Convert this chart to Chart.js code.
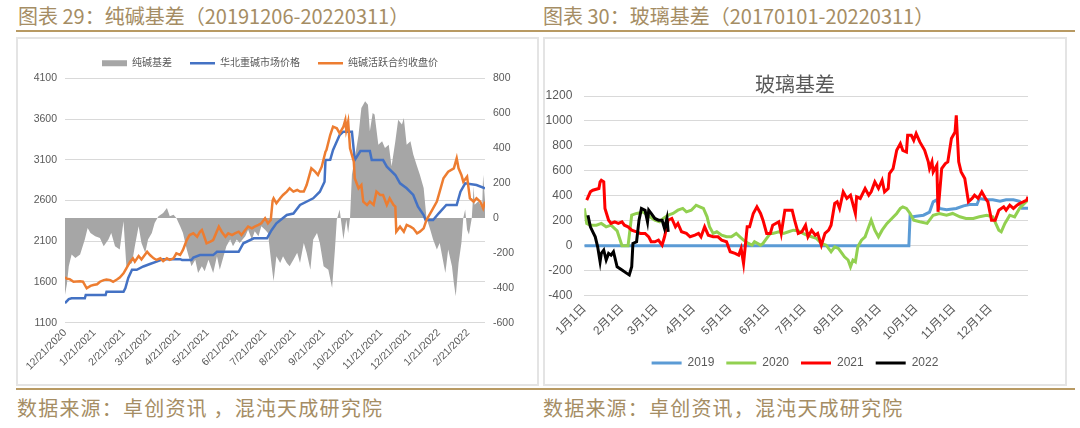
<!DOCTYPE html>
<html>
<head>
<meta charset="utf-8">
<script src="https://cdn.jsdelivr.net/npm/chart.js@4.4.1/dist/chart.umd.min.js"></script>
<style>
html,body{margin:0;padding:0;background:#fff;}
body{width:1080px;height:428px;position:relative;overflow:hidden;font-family:"Noto Sans CJK SC","Noto Sans",sans-serif;}
.title{position:absolute;top:3px;font-size:20px;line-height:26px;color:#a58d64;white-space:nowrap;}
.rule{position:absolute;left:16px;width:1059px;height:2px;background:#b89a63;}
.panel{position:absolute;top:37px;height:345px;border:2px solid #e4e4e4;}
.foot{position:absolute;top:395px;font-size:20px;line-height:26px;color:#a58d64;white-space:nowrap;letter-spacing:1.2px;}
canvas{position:absolute;}
</style>
</head>
<body>
<div class="title" style="left:18px;">图表 29：纯碱基差（20191206-20220311）</div>
<div class="title" style="left:543px;">图表 30：玻璃基差（20170101-20220311）</div>
<div class="rule" style="top:30px;"></div>
<div class="panel" style="left:16px;width:519px;"></div>
<div class="panel" style="left:543px;width:520px;"></div>
<canvas id="soda" width="520" height="355" style="left:18px;top:29px;"></canvas>
<canvas id="glass" width="520" height="345" style="left:545px;top:39px;"></canvas>
<div class="rule" style="top:388px;"></div>
<div class="foot" style="left:17px;">数据来源：卓创资讯 ，混沌天成研究院</div>
<div class="foot" style="left:543px;">数据来源：卓创资讯，混沌天成研究院</div>
<script>
// ---------- Chart 29: soda ash basis (x = days since 12/21/2020) ----------
const sodaTickLabels = ['12/21/2020','1/21/2021','2/21/2021','3/21/2021','4/21/2021','5/21/2021','6/21/2021','7/21/2021','8/21/2021','9/21/2021','10/21/2021','11/21/2021','12/21/2021','1/21/2022','2/21/2022'];
const sodaEndDay = 445; // 3/11/2022

const spotDays  = [0,4,7,21,22,43,44,62,64,67,71,76,83,90,97,104,122,124,134,136,143,157,161,184,189,200,214,219,224,235,242,249,263,270,275,276,281,284,291,295,304,307,313,323,325,337,341,350,355,362,369,374,380,382,390,396,404,415,419,424,436,445];
const spotPrice = [1340,1390,1400,1400,1440,1440,1480,1480,1525,1650,1750,1750,1790,1820,1850,1880,1880,1870,1870,1900,1930,1930,1970,1970,2075,2136,2136,2238,2320,2422,2440,2545,2627,2708,2831,3097,3100,3220,3404,3445,3445,3097,3208,3208,3097,3097,3015,2913,2811,2750,2668,2524,2420,2360,2360,2443,2545,2545,2708,2811,2790,2750];

const futDays  = [0,2,5,9,16,19,23,27,30,34,37,41,44,48,51,55,58,62,65,69,72,74,78,81,87,90,94,97,101,104,108,111,115,118,122,125,129,132,136,140,143,145,147,150,154,157,163,166,170,173,177,180,184,187,191,194,198,201,205,208,212,215,218,220,221,224,228,231,235,238,242,246,249,253,256,261,265,268,272,276,277,281,284,288,291,295,297,298,300,302,306,307,311,314,316,320,323,327,330,334,337,341,344,348,350,351,355,359,362,366,369,373,376,380,383,387,390,394,397,401,406,412,415,417,420,422,426,429,433,436,440,443,445];
const futPrice = [1657,1640,1635,1603,1610,1603,1522,1552,1562,1572,1603,1623,1630,1623,1603,1630,1655,1706,1768,1849,1890,1849,1918,1877,1972,1931,1890,1870,1890,1857,1890,1870,1890,1952,1931,1993,2115,2176,2197,2156,2217,2238,2176,2074,2095,2115,2279,2217,2156,2197,2176,2197,2217,2176,2238,2279,2258,2279,2300,2320,2382,2320,2361,2600,2627,2566,2627,2668,2709,2750,2709,2729,2709,2709,2790,2995,2954,2913,3015,3199,3220,3404,3506,3486,3425,3506,3588,3465,3568,3240,3076,2873,2750,2790,2586,2545,2586,2545,2709,2668,2668,2545,2627,2545,2525,2217,2279,2217,2300,2279,2258,2197,2217,2258,2361,2443,2504,2586,2709,2873,2954,2995,3118,2995,2913,2831,2893,2627,2586,2627,2586,2504,2586];

const basisDays   = [0,2,4,7,11,16,21,24,27,32,37,41,46,49,53,58,62,65,71,74,78,81,85,88,92,95,99,104,108,111,115,118,122,125,129,134,138,141,145,148,152,157,161,164,168,171,175,178,182,185,191,194,198,201,205,208,212,215,219,221,224,228,231,235,238,242,246,249,253,256,260,263,267,270,274,279,283,286,288,291,295,298,300,302,304,307,311,314,318,321,323,326,328,332,336,339,343,346,350,353,357,359,362,366,369,373,376,380,383,387,390,394,397,403,406,410,412,414,417,420,422,424,426,428,431,433,434,438,442,443,445];
const basisValues = [-440,-380,-277,-210,-229,-210,-124,-57,-86,-105,-115,-162,-124,-86,-162,-181,-19,-277,-258,-162,-48,-143,-200,-124,-86,-29,10,29,57,10,19,0,-48,-86,-181,-277,-239,-315,-277,-305,-239,-315,-220,-296,-220,-162,-124,-162,-124,-143,-105,-67,-124,-76,-105,-48,-67,-86,-277,-363,-220,-258,-220,-258,-277,-239,-200,-258,-143,-200,-296,-124,-86,-143,-277,-296,-401,-181,-10,48,-124,-10,-86,0,248,344,477,630,668,649,496,601,592,420,439,401,420,296,439,563,535,573,420,439,363,296,248,172,0,-67,-124,-181,-143,-315,-181,-277,-372,-449,-258,-143,0,48,-67,-95,0,180,76,95,57,248,100];

// ---------- Chart 30: glass basis (x = day of year) ----------
const glassMonthLabels = ['1月1日','2月1日','3月1日','4月1日','5月1日','6月1日','7月1日','8月1日','9月1日','10月1日','11月1日','12月1日'];
const glassYearDays = 365;

const g2019Days = [0,267,268,270,279,284,287,290,292,298,306,312,317,323,325,331,336,342,347,353,358,360,365];
const g2019     = [0,0,240,232,245,270,352,368,299,288,299,320,331,331,379,368,368,357,368,368,357,300,300];

const g2020Days = [0,2,5,10,14,18,22,27,31,36,39,43,46,48,54,58,62,65,69,73,77,81,84,88,92,95,98,101,103,106,109,113,117,121,125,128,131,135,138,140,145,147,150,153,155,160,164,168,172,176,180,183,187,191,195,199,203,206,209,212,214,217,219,221,223,225,228,231,234,236,239,242,245,249,253,257,260,262,265,268,271,276,282,287,292,298,303,309,314,320,325,331,336,341,343,346,350,354,358,362,365];
const g2020     = [300,179,165,165,179,152,165,120,0,0,245,259,265,272,232,205,192,219,245,259,285,299,272,285,325,312,299,232,152,99,112,85,72,72,99,72,45,19,5,32,5,19,59,99,99,112,99,112,125,120,99,85,72,59,19,5,-48,-8,-21,-61,-88,-114,-168,-114,-128,-8,45,72,152,205,125,72,125,179,219,259,299,312,299,259,205,192,179,245,259,245,259,232,219,219,232,245,232,125,112,179,245,232,299,339,368];

const g2021Days = [2,5,7,12,13,14,16,17,20,22,25,28,31,33,36,39,43,46,50,53,55,58,61,64,66,69,72,75,77,80,84,87,91,94,96,99,102,106,110,113,117,120,124,127,129,131,134,136,139,142,145,147,150,153,155,160,162,165,168,171,173,176,179,182,184,187,190,192,195,198,201,203,206,208,210,213,216,219,223,224,227,231,234,236,239,242,245,247,250,251,254,257,260,262,265,266,269,271,273,276,280,283,284,286,287,290,291,294,297,299,302,305,306,308,310,313,316,319,321,324,327,330,332,335,338,341,345,347,350,353,356,358,361,364,365];
const g2021     = [366,432,445,459,512,525,512,299,205,179,192,179,192,165,152,125,112,99,99,72,32,32,45,5,72,205,219,152,179,112,99,72,85,99,72,152,85,72,72,45,32,-48,-61,-75,-21,-141,152,152,259,312,259,205,99,99,165,192,99,285,285,285,205,99,112,165,72,125,85,99,5,99,125,165,339,352,299,432,379,405,259,392,379,459,405,432,512,459,525,432,459,579,619,765,819,765,752,885,885,845,899,832,765,672,619,672,592,645,272,619,659,672,859,912,1045,672,592,539,352,379,405,379,432,379,352,205,205,285,312,285,325,299,325,339,352,366,392];

const g2022Days = [3,5,7,9,11,13,14,16,18,20,22,24,27,31,35,37,39,40,43,45,47,50,52,53,55,58,61,64,66,68,69];
const g2022     = [245,152,112,72,-8,-128,-61,-35,-114,-61,-75,-48,-168,-194,-221,-234,-168,19,32,205,299,285,192,285,259,219,205,205,139,219,112];

// ---------- helpers ----------
const pts = (xs, ys) => xs.map((x, i) => ({x: x, y: ys[i]}));
function sodaDayOf(label) {
  const [m, d, y] = label.split('/').map(Number);
  return Math.round((Date.UTC(y, m - 1, d) - Date.UTC(2020, 11, 21)) / 86400000);
}
const sodaTickMap = {};
sodaTickLabels.forEach(l => { sodaTickMap[sodaDayOf(l)] = l; });
const sodaTickDays = Object.keys(sodaTickMap).map(Number);

const glassTickMap = {};
glassMonthLabels.forEach((l, i) => {
  glassTickMap[Math.round((Date.UTC(2021, i, 1) - Date.UTC(2021, 0, 1)) / 86400000)] = l;
});
const glassTickDays = Object.keys(glassTickMap).map(Number);

Chart.defaults.font.family = "'Liberation Sans','Noto Sans CJK SC',sans-serif";
Chart.defaults.color = '#595959';
const byIndex = (a, b) => a.datasetIndex - b.datasetIndex;
const plain = v => String(v);

new Chart(document.getElementById('soda'), {
  type: 'line',
  data: {
    datasets: [
      {label: '纯碱基差', data: pts(basisDays, basisValues), yAxisID: 'y1', fill: 'origin',
       backgroundColor: '#a6a6a6', borderColor: '#a6a6a6', borderWidth: 0, pointRadius: 0, pointStyle: 'rect', order: 3},
      {label: '华北重碱市场价格', data: pts(spotDays, spotPrice), yAxisID: 'y', fill: false,
       borderColor: '#4472c4', backgroundColor: '#4472c4', borderWidth: 2.5, pointRadius: 0, pointStyle: 'line', order: 2},
      {label: '纯碱活跃合约收盘价', data: pts(futDays, futPrice), yAxisID: 'y', fill: false,
       borderColor: '#ed7d31', backgroundColor: '#ed7d31', borderWidth: 2.5, pointRadius: 0, pointStyle: 'line', order: 1}
    ]
  },
  options: {
    responsive: false, animation: false, devicePixelRatio: 1,
    layout: {padding: {top: 0, left: 0, right: 16, bottom: 0}},
    plugins: {
      legend: {position: 'top', labels: {usePointStyle: true, pointStyleWidth: 25, boxHeight: 6, padding: 18,
        font: {size: 10}, color: '#595959', sort: byIndex}},
      tooltip: {enabled: false}
    },
    scales: {
      x: {type: 'linear', min: 0, max: sodaEndDay,
        afterBuildTicks: s => { s.ticks = sodaTickDays.map(v => ({value: v})); },
        ticks: {autoSkip: false, minRotation: 45, maxRotation: 45, padding: 4, font: {size: 10.5},
          callback: v => sodaTickMap[v] || ''},
        grid: {display: false, drawTicks: false}, border: {display: false},
        afterFit: s => { s.height = 61.3; }},
      y: {position: 'left', min: 1100, max: 4100,
        ticks: {stepSize: 500, padding: 8, font: {size: 10.5}, callback: plain},
        grid: {color: '#d9d9d9', drawTicks: false}, border: {display: false},
        afterFit: s => { s.width = 47; s.paddingTop = 49.3; }},
      y1: {position: 'right', min: -600, max: 800,
        ticks: {stepSize: 200, padding: 8, font: {size: 10.5}, callback: plain},
        grid: {display: false, drawTicks: false}, border: {display: false},
        afterFit: s => { s.width = 37; }}
    }
  }
});

new Chart(document.getElementById('glass'), {
  type: 'line',
  data: {
    datasets: [
      {label: '2019', data: pts(g2019Days, g2019), borderColor: '#5b9bd5', backgroundColor: '#5b9bd5', order: 4},
      {label: '2020', data: pts(g2020Days, g2020), borderColor: '#92d050', backgroundColor: '#92d050', order: 3},
      {label: '2021', data: pts(g2021Days, g2021), borderColor: '#ff0000', backgroundColor: '#ff0000', order: 2},
      {label: '2022', data: pts(g2022Days, g2022), borderColor: '#000000', backgroundColor: '#000000', order: 1}
    ].map(d => Object.assign(d, {borderWidth: 3, pointRadius: 0, pointStyle: 'line', fill: false}))
  },
  options: {
    responsive: false, animation: false, devicePixelRatio: 1,
    layout: {padding: {top: 0, left: 0, right: 20, bottom: 5}},
    plugins: {
      title: {display: true, text: '玻璃基差', color: '#595959',
        font: {size: 20, family: "'Noto Sans CJK SC',sans-serif", weight: 'normal'},
        padding: {top: 12, bottom: 0}},
      legend: {position: 'bottom', labels: {usePointStyle: true, pointStyleWidth: 30, padding: 12,
        font: {size: 12}, color: '#595959', sort: byIndex}},
      tooltip: {enabled: false}
    },
    scales: {
      x: {type: 'linear', min: 0, max: glassYearDays,
        afterBuildTicks: s => { s.ticks = glassTickDays.map(v => ({value: v})); },
        ticks: {autoSkip: false, minRotation: 45, maxRotation: 45, padding: 6, font: {size: 12},
          callback: v => glassTickMap[v] || ''},
        grid: {display: false, drawTicks: false}, border: {display: false},
        afterFit: s => { s.height = 49.3; }},
      y: {position: 'left', min: -400, max: 1200,
        ticks: {stepSize: 200, padding: 12, font: {size: 12}, callback: plain},
        grid: {color: '#d9d9d9', drawTicks: false}, border: {display: false},
        afterFit: s => { s.width = 39.3; s.paddingTop = 57; }},
      yR: {position: 'right', display: true,
        ticks: {display: false}, grid: {display: false, drawTicks: false}, border: {display: false},
        afterFit: s => { s.width = 17; }}
    }
  }
});
</script>
</body>
</html>
